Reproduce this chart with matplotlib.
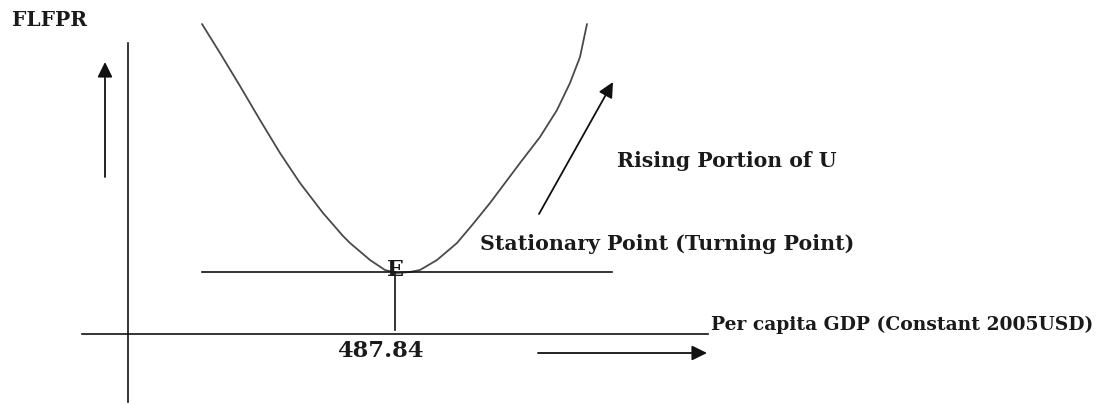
import matplotlib
matplotlib.use("Agg")
import matplotlib.pyplot as plt

# ─── DATOS (unidades del dibujo, origen en el cruce de los ejes) ───────────
# curva en U
curve_x = [74, 92, 112, 132, 152, 172, 195, 215, 222, 242, 257, 269, 282,
           292, 309, 329, 345, 362, 392, 412, 429, 442, 452, 459]
curve_y = [310, 281, 248, 214, 181, 151, 121, 98, 91, 74, 64, 61, 62,
           64, 74, 91, 110, 131, 171, 197, 224, 251, 277, 310]

turning_x = 267        # valor de la renta en el punto estacionario
turning_y = 62         # nivel de la tangente horizontal
turning_label = "487.84"

x_axis = [-46, 580]
y_axis = [291, -68]
tangent_x = [74, 484]

up_arrow = [(-23, 157), (-23, 272)]
right_arrow = [(410, -19), (579, -19)]
rise_arrow = [(411, 120), (485, 252)]

FONT = "DejaVu Serif"
LINE = "#111111"
CURVE = "#4a4a4a"

fig = plt.figure(figsize=(11.01, 4.05), dpi=100, facecolor="white")
ax = fig.add_axes([0, 0, 1, 1])
ax.set_xlim(-128, 973)
ax.set_ylim(-71, 334)
ax.axis("off")

# ejes
ax.plot(x_axis, [0, 0], color=LINE, lw=1.2)
ax.plot([0, 0], y_axis, color=LINE, lw=1.2)

# curva y tangente
ax.plot(curve_x, curve_y, color=CURVE, lw=1.3,
        solid_joinstyle="round", solid_capstyle="round")
ax.plot(tangent_x, [turning_y, turning_y], color=LINE, lw=1.2)
ax.plot([turning_x, turning_x], [turning_y, 4], color=LINE, lw=1.2)

# flechas
for (x0, y0), (x1, y1) in [up_arrow, right_arrow, rise_arrow]:
    ax.annotate("", xy=(x1, y1), xytext=(x0, y0),
                arrowprops=dict(arrowstyle="-|>,head_length=0.65,head_width=0.32",
                                mutation_scale=14, color=LINE, lw=1.3,
                                shrinkA=0, shrinkB=0))

# textos
txt = dict(family=FONT, fontweight="bold", color="#1a1a1a")
ax.text(-116, 314, "FLFPR", fontsize=14.5, ha="left", va="center", **txt)
ax.text(489, 173, "Rising Portion of U", fontsize=14.7, ha="left", va="center", **txt)
ax.text(352, 90, "Stationary Point (Turning Point)", fontsize=14.8,
        ha="left", va="center", **txt)
ax.text(583, 9, "Per capita GDP (Constant 2005USD)", fontsize=13.5,
        ha="left", va="center", **txt)
ax.text(turning_x, 64, "E", fontsize=16, ha="center", va="center", **txt)
ax.text(252, -17, turning_label, fontsize=16.3, ha="center", va="center", **txt)

fig.savefig("out.png", dpi=100, facecolor="white")
